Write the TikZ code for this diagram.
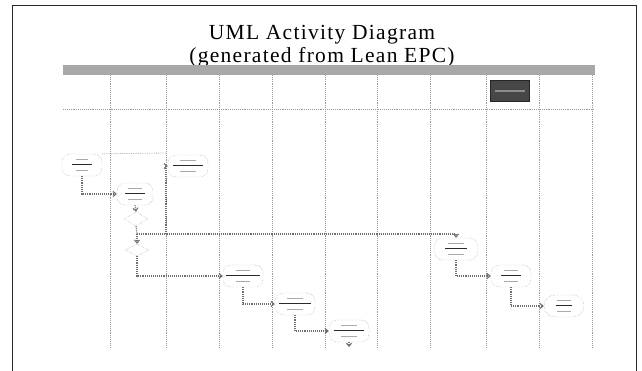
\documentclass[tikz,border=0pt]{standalone}
\usepackage{fontspec}
\setmainfont{Liberation Serif}
\newfontfamily\titlefont[LetterSpace=6]{Liberation Serif}
\usetikzlibrary{arrows.meta, positioning, shapes.geometric}
\definecolor{lanegray} {HTML}{9A9A9A}
\definecolor{bandgray} {HTML}{A8A8A8}
\definecolor{linkgray} {HTML}{6E6E6E}
\definecolor{inkdark}  {HTML}{2A2A2A}
\definecolor{inklight} {HTML}{AAAAAA}

% blurred (unreadable) activity label: faint line, dark line, faint line
\newcommand{\lbl}[2]{{\color{inklight}\rule{#2}{0.8pt}}\\
  {\color{inkdark}\rule{#1}{1.8pt}}\\
  {\color{inklight}\rule{#2}{0.8pt}}}

\begin{document}
\begin{tikzpicture}[x=1pt, y=-1pt,
    title/.style={font=\titlefont\fontsize{21.5}{24}\selectfont,
                  anchor=base, inner sep=0pt},
    lane/.style={draw=lanegray, densely dotted, line width=0.9pt},
    act/.style={draw=black!40, densely dotted, rounded corners=8pt,
                minimum width=40pt, minimum height=22pt, inner sep=1pt,
                align=center, font=\fontsize{4}{5.5}\selectfont,
                fill=white},
    choice/.style={diamond, draw=black!40, densely dotted, aspect=1.6,
                   minimum width=24pt, minimum height=14pt, inner sep=0pt,
                   fill=white},
    conn/.style={draw=linkgray, densely dotted, line width=1.1pt,
                 -{Straight Barb[length=3pt, width=5pt]}},
    plain/.style={draw=linkgray, densely dotted, line width=1.1pt},
  ]
    \useasboundingbox (0,0) rectangle (642,371);

    % frame and title
    \draw[line width=1pt, black!85] (12,371) |- (636,6) -- (636,371);
    \node[title] (ttl1) at (322,40) {UML Activity Diagram};
    \node[title] (ttl2) at (322,63) {(generated from Lean EPC)};

    % swim lanes
    \fill[bandgray] (63,65) rectangle (595,75);
    \foreach \x in {110,166,219,272,325,377,430,486,539,592}
      \draw[lane] (\x,75) -- (\x,347);
    \draw[lane] (63,109) -- (594,109);
    \node[fill=black!72, draw=black!85, minimum width=39pt,
          minimum height=21pt, inner sep=0pt] (hdr) at (510,91)
      {\color{black!45}\rule{30pt}{1.5pt}};

    % activities, left part
    \node[act] (start) at (82,165) {\lbl{20pt}{12pt}};
    \node[act] (grab)  at (188,166) {\lbl{30pt}{16pt}};
    \node[act, minimum width=36pt] (check) at (135,194) {\lbl{20pt}{14pt}};
    \node[choice] (dec1) at (136,219) {};
    \node[choice, minimum height=12pt] (dec2) at (137,250) {};

    % activities, staircase
    \node[act] (prep)  at (243,276) {\lbl{34pt}{14pt}};
    \node[act] (pack)  at (295,304) {\lbl{32pt}{16pt}};
    \node[act] (ship)  at (349,331) {\lbl{30pt}{16pt}};

    % activities, right part
    \node[act, minimum width=43pt] (bill) at (456,249) {\lbl{22pt}{16pt}};
    \node[act] (pay)   at (511,276) {\lbl{20pt}{14pt}};
    \node[act, rounded corners=11pt] (close) at (564,306) {\lbl{16pt}{14pt}};

    \coordinate (split) at (137,234);
    \coordinate (up)    at (166,234);
    \coordinate (hint)  at (167,153);
    \coordinate (tail)  at (349,347);

    \draw[plain, black!30, line width=0.8pt] (start.north east) -- (hint);
    \draw[conn] (start.south) |- (check.west);
    \draw[conn] (check.south) -- (dec1.north);
    \draw[plain] (dec1.south) -- (split);
    \draw[conn] (split) -- (dec2.north);
    \draw[conn] (split) -| (bill.north);
    \draw[conn] (up) |- (grab.west);
    \draw[conn] (dec2.south) |- (prep.west);
    \draw[conn] (prep.south) |- (pack.west);
    \draw[conn] (pack.south) |- (ship.west);
    \draw[conn] (ship.south) -- (tail);
    \draw[conn] (bill.south) |- (pay.west);
    \draw[conn] (pay.south)  |- (close.west);
  \end{tikzpicture}
\end{document}
